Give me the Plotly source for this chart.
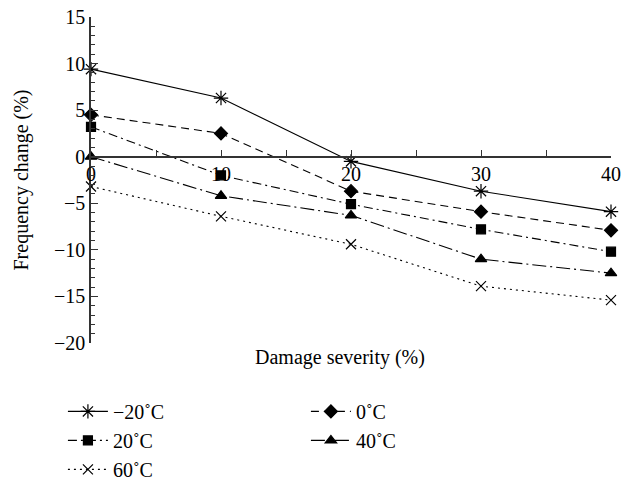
import plotly.graph_objects as go

damage = [0, 10, 20, 30, 40]
series_names = ["\u221220\u02daC", "0\u02daC", "20\u02daC", "40\u02daC", "60\u02daC"]
v_m20 = [9.4, 6.3, -0.5, -3.7, -5.9]
v_0 = [4.5, 2.5, -3.7, -5.9, -7.9]
v_20 = [3.2, -2.0, -5.1, -7.8, -10.2]
v_40 = [0.0, -4.2, -6.3, -11.0, -12.5]
v_60 = [-3.2, -6.4, -9.4, -13.9, -15.4]
values = [v_m20, v_0, v_20, v_40, v_60]

styles = [
    dict(dash="solid", symbol="asterisk-open", size=12),
    dict(dash="8px,5px", symbol="diamond", size=10),
    dict(dash="9px,4px,2px,4px", symbol="square", size=9),
    dict(dash="14px,4px,2px,4px", symbol="triangle-up", size=10),
    dict(dash="2px,4px", symbol="x-thin-open", size=10),
]

FONT = "Liberation Serif"
FS = 20
fig = go.Figure()
for name, vals, st in zip(series_names, values, styles):
    fig.add_trace(go.Scatter(
        x=damage, y=vals, name=name, mode="lines+markers",
        line=dict(color="black", width=1.1, dash=st["dash"]),
        marker=dict(symbol=st["symbol"], size=st["size"], color="black",
                    line=dict(color="black", width=1.2)),
        cliponaxis=False,
    ))

fig.update_layout(
    width=634, height=484,
    margin=dict(l=91, r=23, t=17, b=141, autoexpand=False),
    paper_bgcolor="white", plot_bgcolor="white",
    font=dict(family=FONT, size=FS, color="black"),
    showlegend=True,
    legend=dict(orientation="h", entrywidth=188, entrywidthmode="pixels",
                x=-0.054, xanchor="left", y=-0.15, yanchor="top",
                font=dict(family=FONT, size=FS), bgcolor="rgba(0,0,0,0)",
                traceorder="normal", itemwidth=40),
    xaxis=dict(range=[0, 40], anchor="free", position=20 / 35,
               showline=True, linecolor="#333", linewidth=1.5,
               ticks="inside", ticklen=6, tickwidth=1.3, tickcolor="#333",
               dtick=10, tick0=0, showgrid=False, zeroline=False,
               minor=dict(ticks="inside", dtick=5, ticklen=6, tickwidth=1.3, tickcolor="#333"),
               tickfont=dict(family=FONT, size=FS)),
    yaxis=dict(range=[-20, 15], showline=True, linecolor="#333", linewidth=1.5,
               ticks="inside", ticklen=7, tickwidth=1.3, tickcolor="#333",
               showgrid=False, zeroline=False,
               tickvals=[-20, -15, -10, -5, 0, 5, 10, 15],
               ticktext=["\u221220", "\u221215", "\u221210", "\u22125", "0", "5", "10", "15"],
               minor=dict(ticks="inside", dtick=1, ticklen=4, tickwidth=1.1, tickcolor="#333"),
               tickfont=dict(family=FONT, size=FS),
               title=dict(text="Frequency change (%)", font=dict(family=FONT, size=FS), standoff=20)),
    annotations=[dict(text="Damage severity (%)", xref="paper", yref="paper",
                      x=0.479, y=-0.043, xanchor="center", yanchor="middle",
                      showarrow=False, font=dict(family=FONT, size=FS))],
)

fig.write_html("out.html")
